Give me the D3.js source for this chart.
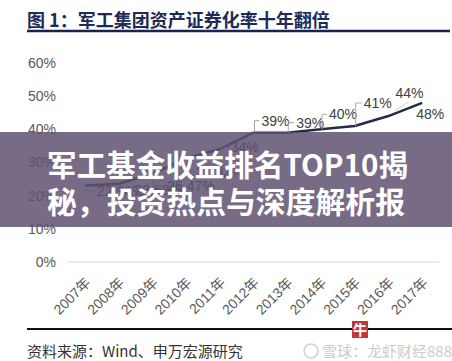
<!DOCTYPE html>
<html>
<head>
<meta charset="utf-8">
<script src="https://cdn.jsdelivr.net/npm/d3@7"></script>
<style>
  html, body { margin: 0; padding: 0; background: #fff; }
  svg { display: block; font-family: "Liberation Sans", Arial, "Noto Sans CJK SC", sans-serif; }
</style>
</head>
<body>
<svg width="452" height="361"></svg>
<script>
// Chart data
const years = ["2007年", "2008年", "2009年", "2010年", "2011年", "2012年",
  "2013年", "2014年", "2015年", "2016年", "2017年"];
const rates = [0.2296, 0.2358, 0.2647, 0.3132, 0.34, 0.39, 0.39, 0.40, 0.41, 0.44, 0.48];
const rateLabels = ["22.96%", "23.58%", "26.47%", "31.32%", "34%", "39%", "39%", "40%", "41%", "44%", "48%"];
const yTicks = [0, 0.1, 0.2, 0.3, 0.4, 0.5, 0.6];

// Where each data callout sits relative to its point (layout only)
const callouts = [
  { dx: 12, dy: 5, leader: "bracket" },
  { dx: 16, dy: 6, leader: "bracket" },
  { dx: 15, dy: 12, leader: "bracket" },
  { dx: 10, dy: 14, leader: "bracket" },
  { dx: 11, dy: -2, leader: "bracket" },
  { dx: 8, dy: -12, leader: "bracket" },
  { dx: 9, dy: -10, leader: "bracket" },
  { dx: 8, dy: -15, leader: "bracket" },
  { dx: 9, dy: -23, leader: "bracket" },
  { dx: 7, dy: -23, leader: "diag" },
  { dx: -6, dy: 11, leader: "none" }
];

const svg = d3.select("svg");

// Scales
const x = d3.scaleBand().domain(years).range([68, 439]);
const y = d3.scaleLinear().domain([0, 0.6]).range([262, 63]);
const cx = (d) => x(d) + x.bandwidth() / 2;

// Title and rule under it
svg.append("text")
  .attr("x", 27).attr("y", 27)
  .attr("font-family", "'Noto Sans CJK SC', sans-serif")
  .attr("font-size", 18).attr("font-weight", "bold")
  .attr("fill", "#1f2a56")
  .text("图 1：军工集团资产证券化率十年翻倍");
svg.append("line")
  .attr("x1", 27).attr("x2", 450).attr("y1", 31).attr("y2", 31)
  .attr("stroke", "#1a2350").attr("stroke-width", 2.5);

// Y axis labels
svg.append("g").selectAll("text")
  .data(yTicks).enter().append("text")
  .attr("x", 56).attr("y", (d) => y(d))
  .attr("dy", "0.35em")
  .attr("text-anchor", "end")
  .attr("font-size", 14).attr("fill", "#595959")
  .text(d3.format(".0%"));

// Baseline
svg.append("line")
  .attr("x1", 68).attr("x2", 439)
  .attr("y1", y(0)).attr("y2", y(0))
  .attr("stroke", "#d9d9d9").attr("stroke-width", 1);

// X axis labels (rotated)
svg.append("g").selectAll("text")
  .data(years).enter().append("text")
  .attr("transform", (d) => `translate(${cx(d) + 3},${y(0) + 18}) rotate(-45)`)
  .attr("text-anchor", "end")
  .attr("dy", "0.35em")
  .attr("font-family", "'Liberation Sans', 'Noto Sans CJK SC', sans-serif")
  .attr("font-size", 14).attr("fill", "#595959")
  .text((d) => d);

// Line
const line = d3.line()
  .x((d, i) => cx(years[i]))
  .y((d) => y(d));
svg.append("path")
  .datum(rates)
  .attr("d", line)
  .attr("fill", "none")
  .attr("stroke", "#222a45")
  .attr("stroke-width", 2.5)
  .attr("stroke-linejoin", "round");

// Data callouts
const labels = svg.append("g");
rates.forEach(function (v, i) {
  const px = cx(years[i]);
  const py = y(v);
  const c = callouts[i];
  if (c.leader === "bracket") {
    labels.append("path")
      .attr("d", `M${px + 1},${py}V${py + c.dy}H${px + c.dx - 2}`)
      .attr("fill", "none")
      .attr("stroke", "#a6a6a6").attr("stroke-width", 1);
  } else if (c.leader === "diag") {
    labels.append("line")
      .attr("x1", px + 6).attr("y1", py - 5)
      .attr("x2", px + c.dx + 13).attr("y2", py + c.dy + 9)
      .attr("stroke", "#d0d0d0").attr("stroke-width", 1);
  }
  labels.append("text")
    .attr("x", px + c.dx).attr("y", py + c.dy)
    .attr("dy", "0.35em")
    .attr("font-size", 14).attr("fill", "#404040")
    .text(rateLabels[i]);
});

// Bottom rule and source
svg.append("line")
  .attr("x1", 27).attr("x2", 452).attr("y1", 329).attr("y2", 329)
  .attr("stroke", "#111").attr("stroke-width", 2);
svg.append("text")
  .attr("x", 27).attr("y", 357)
  .attr("font-family", "'Noto Sans CJK SC', sans-serif")
  .attr("font-size", 15).attr("fill", "#333")
  .text("资料来源：Wind、申万宏源研究");

// Watermark
svg.append("circle")
  .attr("cx", 311).attr("cy", 351).attr("r", 7)
  .attr("fill", "none").attr("stroke", "#cfcfcf").attr("stroke-width", 1.5);
svg.append("text")
  .attr("x", 322).attr("y", 357)
  .attr("font-family", "'Noto Sans CJK SC', sans-serif")
  .attr("font-size", 15).attr("fill", "#cccccc")
  .text("雪球：龙虾财经888");
svg.append("rect")
  .attr("x", 352).attr("y", 321).attr("width", 16).attr("height", 17)
  .attr("fill", "#c0393b");
svg.append("text")
  .attr("x", 360).attr("y", 335)
  .attr("text-anchor", "middle")
  .attr("font-family", "'Noto Sans CJK SC', sans-serif")
  .attr("font-size", 14).attr("font-weight", "bold").attr("fill", "#fff")
  .text("牛");

// Overlay banner
svg.append("rect")
  .attr("x", 0).attr("y", 132).attr("width", 452).attr("height", 95)
  .attr("fill", "rgb(95,81,113)").attr("fill-opacity", 0.85);
const banner = ["军工基金收益排名TOP10揭", "秘，投资热点与深度解析报"];
const bannerWidths = [361, 358];
svg.append("g").selectAll("text")
  .data(banner).enter().append("text")
  .attr("x", 47).attr("y", (d, i) => 176 + i * 37)
  .attr("textLength", (d, i) => bannerWidths[i])
  .attr("lengthAdjust", "spacingAndGlyphs")
  .attr("font-family", "'Noto Sans CJK SC', sans-serif")
  .attr("font-size", 30).attr("font-weight", "bold")
  .attr("fill", "#fff")
  .text((d) => d);
</script>
</body>
</html>
